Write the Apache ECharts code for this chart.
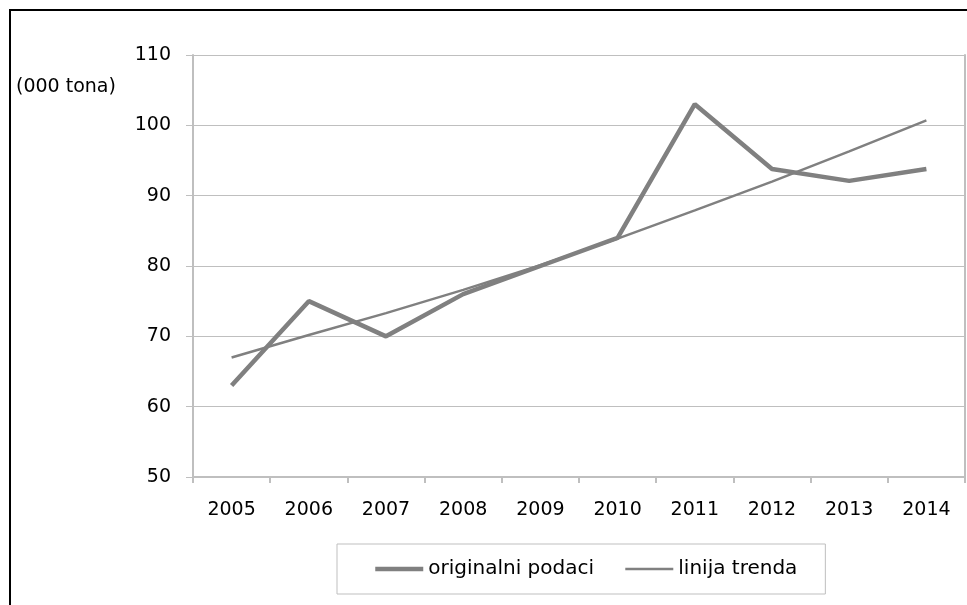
<!DOCTYPE html>
<html>
<head>
<meta charset="utf-8">
<script src="https://cdn.jsdelivr.net/npm/echarts@6/dist/echarts.min.js"></script>
<style>
  html, body { margin: 0; padding: 0; background: #fff; }
  #chart { width: 967px; height: 605px; }
</style>
</head>
<body>
<div id="chart"></div>
<script>
// Years on the category axis
const years = ['2005', '2006', '2007', '2008', '2009', '2010', '2011', '2012', '2013', '2014'];
// Production, thousand tonnes
const originalValues = [63, 75, 70, 76, 80, 84, 103, 93.8, 92.1, 93.8];
// Trend line values per year
const trendValues = [67.0, 70.2, 73.3, 76.6, 80.1, 83.9, 87.9, 92.0, 96.3, 100.7];
// Value axis range and step
const yMin = 50;
const yMax = 110;
const yStep = 10;
const seriesNames = ['originalni podaci', 'linija trenda'];
const unitLabel = '(000 tona)';

const FONT = 'DejaVu Sans';
const AXIS_GRAY = '#bfbfbf';
const LINE_GRAY = '#808080';
const DATA_WIDTH = 4.5;
const TREND_WIDTH = 2.5;

const chart = echarts.init(document.getElementById('chart'), null, { renderer: 'canvas' });

chart.setOption({
  animation: false,
  backgroundColor: '#fff',
  textStyle: { fontFamily: FONT },
  grid: { left: 193, right: 2, top: 55, bottom: 128, containLabel: false },
  graphic: [
    {
      type: 'rect',
      silent: true,
      z: 100,
      shape: { x: 10, y: 10, width: 1200, height: 900 },
      style: { fill: 'none', stroke: '#000', lineWidth: 2 }
    },
    {
      type: 'text',
      silent: true,
      left: 16,
      top: 78,
      style: { text: unitLabel, fontFamily: FONT, fontSize: 19, fill: '#000' }
    }
  ],
  legend: {
    data: [
      { name: seriesNames[0], lineStyle: { width: DATA_WIDTH, color: LINE_GRAY } },
      { name: seriesNames[1], lineStyle: { width: TREND_WIDTH, color: LINE_GRAY } }
    ],
    left: 337,
    top: 544,
    orient: 'horizontal',
    itemWidth: 48,
    itemHeight: 20,
    itemGap: 30,
    padding: [15, 28, 15, 36],
    borderColor: AXIS_GRAY,
    borderWidth: 1,
    backgroundColor: '#fff',
    itemStyle: { opacity: 0 },
    textStyle: { fontFamily: FONT, fontSize: 20, color: '#000' }
  },
  xAxis: {
    type: 'category',
    data: years,
    boundaryGap: true,
    axisLine: { show: true, lineStyle: { color: AXIS_GRAY, width: 2 } },
    axisTick: { show: true, alignWithLabel: false, length: 6, lineStyle: { color: AXIS_GRAY, width: 2 } },
    axisLabel: { color: '#000', fontFamily: FONT, fontSize: 19, margin: 24 },
    splitLine: { show: false }
  },
  yAxis: [
    {
      type: 'value',
      min: yMin,
      max: yMax,
      interval: yStep,
      axisLine: { show: true, lineStyle: { color: AXIS_GRAY, width: 2 } },
      axisTick: { show: true, length: 7, lineStyle: { color: AXIS_GRAY, width: 1 } },
      axisLabel: { color: '#000', fontFamily: FONT, fontSize: 19, margin: 22 },
      splitLine: { show: true, lineStyle: { color: AXIS_GRAY, width: 1 } }
    },
    {
      // right-hand frame of the plot area
      type: 'value',
      position: 'right',
      min: yMin,
      max: yMax,
      interval: yStep,
      axisLine: { show: true, lineStyle: { color: AXIS_GRAY, width: 2 } },
      axisTick: { show: false },
      axisLabel: { show: false },
      splitLine: { show: false }
    }
  ],
  series: [
    {
      name: seriesNames[0],
      type: 'line',
      data: originalValues,
      symbol: 'none',
      smooth: false,
      color: LINE_GRAY,
      lineStyle: { color: LINE_GRAY, width: DATA_WIDTH },
      z: 2
    },
    {
      name: seriesNames[1],
      type: 'line',
      data: trendValues,
      symbol: 'none',
      smooth: false,
      color: LINE_GRAY,
      lineStyle: { color: LINE_GRAY, width: TREND_WIDTH },
      z: 3
    }
  ]
});
</script>
</body>
</html>
